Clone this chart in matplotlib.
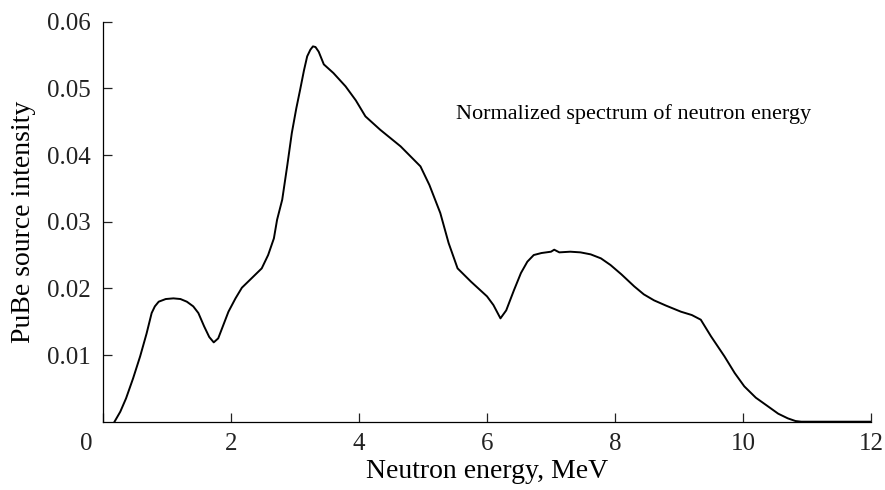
import numpy as np
import matplotlib
matplotlib.use("Agg")
import matplotlib.pyplot as plt
import matplotlib.transforms as mtransforms

# neutron energy (MeV) and normalized PuBe source intensity
energy = [0.18, 0.27, 0.36, 0.47, 0.58, 0.68, 0.76, 0.81, 0.87, 0.98, 1.10, 1.21, 1.31,
          1.41, 1.49, 1.58, 1.66, 1.73, 1.80, 1.88, 1.96, 2.07, 2.17, 2.32, 2.48,
          2.58, 2.67, 2.72, 2.80, 2.88, 2.95, 3.02, 3.08, 3.14, 3.19, 3.24, 3.28,
          3.32, 3.37, 3.45, 3.60, 3.79, 3.95, 4.10, 4.33, 4.65, 4.96, 5.10, 5.27,
          5.40, 5.54, 5.75, 6.00, 6.10, 6.21, 6.30, 6.42, 6.53, 6.63, 6.73, 6.85,
          7.00, 7.05, 7.13, 7.30, 7.46, 7.62, 7.78, 7.93, 8.10, 8.30, 8.45, 8.61,
          8.80, 9.03, 9.20, 9.34, 9.50, 9.71, 9.87, 10.02, 10.20, 10.39, 10.55,
          10.70, 10.82, 10.91, 12.0]
intensity = [0.0, 0.0015, 0.0035, 0.0065, 0.0098, 0.0132, 0.0163, 0.0173, 0.0180,
             0.0184, 0.0185, 0.0184, 0.0180, 0.0173, 0.0163, 0.0143, 0.0127, 0.0119,
             0.0125, 0.0145, 0.0165, 0.0185, 0.0201, 0.0215, 0.0230, 0.0250, 0.0275,
             0.0303, 0.0333, 0.0385, 0.0433, 0.0470, 0.0498, 0.0527, 0.0548, 0.0558,
             0.0563, 0.0562, 0.0555, 0.0536, 0.0523, 0.0503, 0.0482, 0.0458, 0.0438,
             0.0413, 0.0383, 0.0355, 0.0313, 0.0268, 0.0230, 0.0210, 0.0188, 0.0175,
             0.0155, 0.0167, 0.0197, 0.0223, 0.0240, 0.0250, 0.0253, 0.0255, 0.0258,
             0.0254, 0.0255, 0.0254, 0.0251, 0.0245, 0.0235, 0.0221, 0.0203, 0.0191,
             0.0182, 0.0174, 0.0165, 0.0160, 0.0153, 0.0128, 0.0098, 0.0073, 0.0053,
             0.0036, 0.0023, 0.0012, 0.0005, 0.0001, 0.0, 0.0]

x_ticks = [0, 2, 4, 6, 8, 10, 12]
y_ticks = [0.01, 0.02, 0.03, 0.04, 0.05, 0.06]
y_labels = ["0.01", "0.02", "0.03", "0.04", "0.05", "0.06"]

plt.rcParams['font.family'] = ['Liberation Serif', 'DejaVu Serif']

fig = plt.figure(figsize=(8.85, 4.9), dpi=100)
ax = fig.add_axes([0.1164, 0.1394, 0.8678, 0.8163])

ax.plot(energy, intensity, color='black', lw=1.4)

ax.set_xlim(0, 12)
ax.set_ylim(0, 0.06)
ax.set_xticks(x_ticks)
ax.set_xticklabels([str(v) for v in x_ticks])
ax.set_yticks(y_ticks)
ax.set_yticklabels(y_labels)
ax.tick_params(direction='in', length=6.5, width=0.9, labelsize=18, colors='#222222')
ax.tick_params(axis='y', pad=8.5)
ax.tick_params(axis='x', pad=8)
for side in ['top', 'right']:
    ax.spines[side].set_visible(False)
for side in ['left', 'bottom']:
    ax.spines[side].set_linewidth(0.9)

# the "0" on the energy axis sits left of the corner in the original
lbl0 = ax.get_xticklabels()[0]
lbl0.set_transform(lbl0.get_transform() + mtransforms.ScaledTranslation(-17 / 100, 0, fig.dpi_scale_trans))

ax.set_xlabel('Neutron energy, MeV', fontsize=20, labelpad=3)
ax.set_ylabel('PuBe source intensity', fontsize=20, labelpad=8)

ax.text(5.51, 0.0462, 'Normalized spectrum of neutron energy', fontsize=16, va='center', ha='left')

fig.savefig('out.png', dpi=100)
